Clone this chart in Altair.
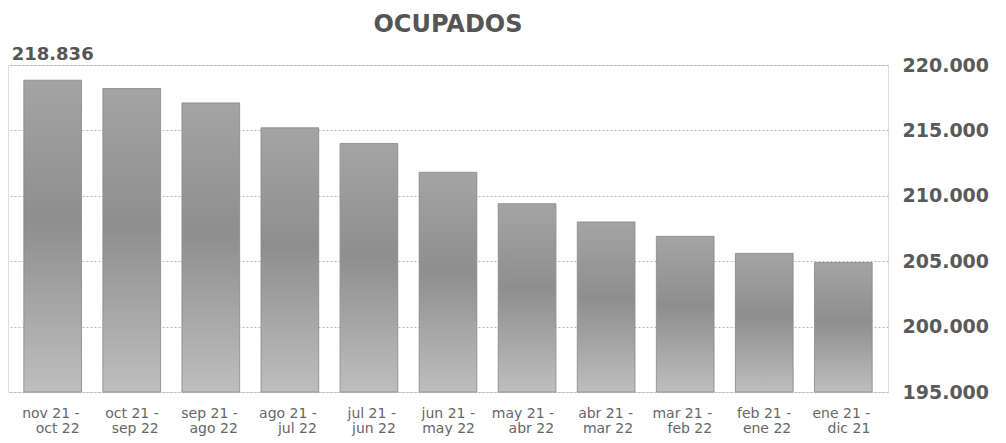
import altair as alt
import pandas as pd

periods = [
    "nov 21 - oct 22", "oct 21 - sep 22", "sep 21 - ago 22", "ago 21 - jul 22",
    "jul 21 - jun 22", "jun 21 - may 22", "may 21 - abr 22", "abr 21 - mar 22",
    "mar 21 - feb 22", "feb 21 - ene 22", "ene 21 - dic 21",
]
ocupados = [218836, 218200, 217100, 215200, 214000, 211800, 209400, 208000, 206900, 205600, 204900]
bar_labels = ["218.836", "", "", "", "", "", "", "", "", "", ""]
y_ticks = [195000, 200000, 205000, 210000, 215000, 220000]

df = pd.DataFrame({"periodo": periods, "ocupados": ocupados, "etiqueta": bar_labels})

gradient = alt.LinearGradient(
    gradient="linear",
    x1=0, x2=0, y1=0, y2=1,
    stops=[
        alt.GradientStop(offset=0, color="#a4a4a4"),
        alt.GradientStop(offset=0.45, color="#8e8e8e"),
        alt.GradientStop(offset=1, color="#bebebe"),
    ],
)

x_enc = alt.X(
    "periodo:N",
    sort=periods,
    scale=alt.Scale(paddingInner=0.27, paddingOuter=0.2),
    axis=alt.Axis(
        title=None, labelAngle=0, labelAlign="right", labelOffset=27,
        labelPadding=14, labelLineHeight=15, labelFontSize=14,
        labelColor="#666666", labelFont="DejaVu Sans", labelBaseline="top",
        domain=False, ticks=False,
        labelExpr="[substring(datum.label, 0, 8), substring(datum.label, 9)]",
    ),
)

y_scale = alt.Scale(domain=[195000, 220000], zero=False, nice=False)

bars = alt.Chart(df).mark_bar(color=gradient, stroke="#878787", strokeWidth=0.8).encode(
    x=x_enc,
    y=alt.Y(
        "ocupados:Q",
        scale=y_scale,
        axis=alt.Axis(
            orient="right", values=y_ticks, title=None,
            labelExpr="replace(format(datum.value, ','), ',', '.')",
            labelAlign="left", labelPadding=14, labelFontSize=19,
            labelFontWeight="bold", labelColor="#5a5a5a", labelFont="DejaVu Sans",
            domain=False, ticks=False,
            grid=True, gridColor="#b8b8b8", gridDash=[2, 2], gridWidth=1,
        ),
    ),
    y2=alt.datum(195000),
)

labels = alt.Chart(df).transform_filter("datum.etiqueta != ''").mark_text(
    baseline="bottom", dy=-16, fontSize=18, fontWeight="bold",
    font="DejaVu Sans", color="#555555",
).encode(
    x=alt.X("periodo:N", sort=periods),
    y=alt.Y("ocupados:Q", scale=y_scale),
    text="etiqueta:N",
)

chart = alt.layer(bars, labels).properties(
    width=880,
    height=327,
    title=alt.Title(
        "OCUPADOS", fontSize=24, fontWeight="bold", font="DejaVu Sans",
        color="#555555", anchor="middle", offset=9,
    ),
    autosize=alt.AutoSizeParams(type="none"),
    padding={"left": 0, "top": 57, "right": 110, "bottom": 55},
).configure_view(stroke=None).configure(background="white")

chart.save("out.html", embed_options={"renderer": "svg", "actions": False})
